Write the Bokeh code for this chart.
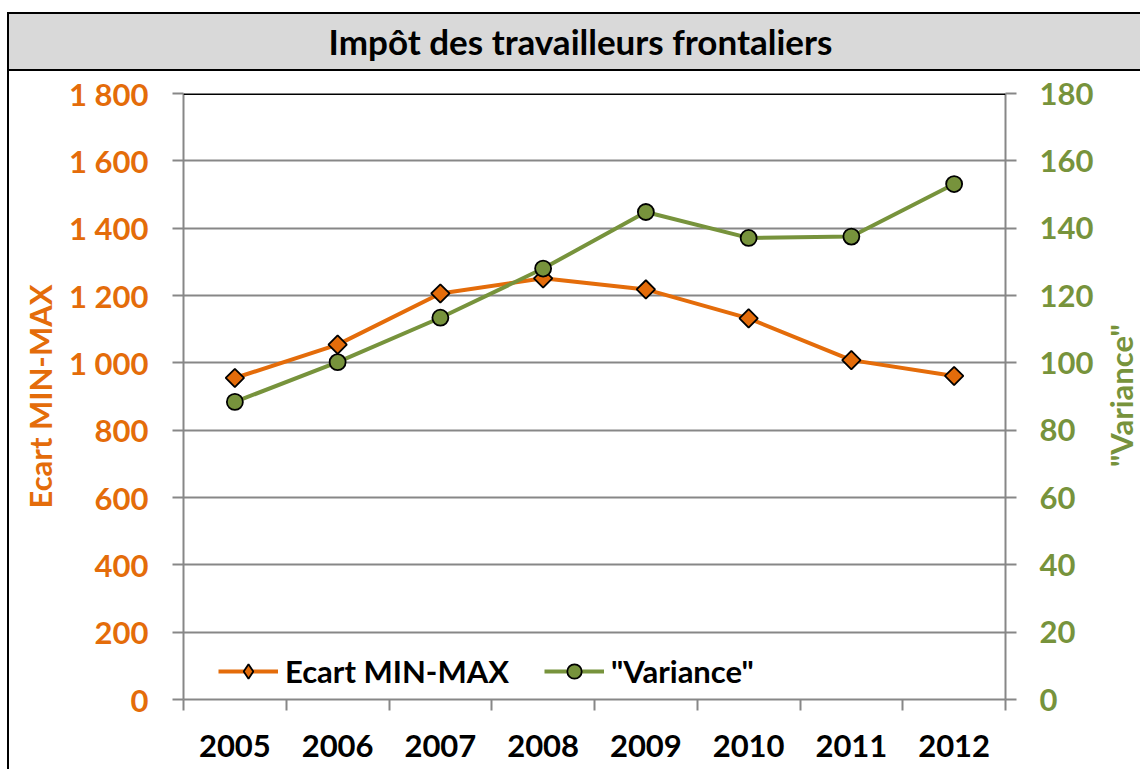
import math
from bokeh.plotting import figure
from bokeh.layouts import column, row
from bokeh.models import (Range1d, LinearAxis, FixedTicker, Legend, LegendItem,
                          Span, Div)
from bokeh.embed import file_html
from bokeh.resources import INLINE

# ---------------- data ----------------
chart_title = "Impôt des travailleurs frontaliers"
years = ["2005", "2006", "2007", "2008", "2009", "2010", "2011", "2012"]
ecart = [955, 1054, 1206, 1251, 1218, 1132, 1008, 961]
variance = [88.4, 100.2, 113.4, 128.0, 144.8, 137.1, 137.5, 153.1]
left_ticks = [0, 200, 400, 600, 800, 1000, 1200, 1400, 1600, 1800]
left_labels = ["0", "200", "400", "600", "800", "1 000", "1 200", "1 400", "1 600", "1 800"]
right_ticks = [0, 20, 40, 60, 80, 100, 120, 140, 160, 180]
left_title = "Ecart MIN-MAX"
right_title = '"Variance"'
series_names = ["Ecart MIN-MAX", '"Variance"']

# ---------------- style ----------------
ORANGE = "#E46C0A"
GREEN = "#77933C"
GRID = "#878787"
FONT = "Lato"
FS = "31px"
TITLE_FS = "35px"

PW, PH = 1094, 698
xs = [i + 0.5 for i in range(len(years))]

p = figure(width=PW, height=PH, output_backend="svg", toolbar_location=None,
           x_range=Range1d(0, len(years)), y_range=Range1d(0, 1800),
           min_border_left=174, min_border_right=98,
           min_border_top=22, min_border_bottom=70,
           x_axis_location=None, y_axis_location=None)
p.extra_y_ranges = {"var": Range1d(0, 180)}
p.outline_line_color = None
p.background_fill_color = "white"
p.border_fill_color = "white"

# grid
p.xgrid.grid_line_color = None
p.ygrid.ticker = FixedTicker(ticks=left_ticks)
p.ygrid.grid_line_color = GRID
p.ygrid.grid_line_width = 2

# bottom axis
xaxis = LinearAxis(ticker=FixedTicker(ticks=xs, minor_ticks=list(range(len(years) + 1))))
xaxis.major_label_overrides = {x: y for x, y in zip(xs, years)}
xaxis.major_tick_line_color = None
xaxis.major_tick_in = 0
xaxis.major_tick_out = 0
xaxis.minor_tick_in = 0
xaxis.minor_tick_out = 11
xaxis.minor_tick_line_color = GRID
xaxis.minor_tick_line_width = 2
xaxis.axis_line_color = GRID
xaxis.axis_line_width = 2
xaxis.major_label_standoff = 24
xaxis.major_label_text_font = FONT
xaxis.major_label_text_font_size = FS
xaxis.major_label_text_font_style = "bold"
xaxis.major_label_text_color = "black"
p.add_layout(xaxis, "below")

# left axis
yl = LinearAxis(ticker=FixedTicker(ticks=left_ticks))
yl.major_label_overrides = {t: s for t, s in zip(left_ticks, left_labels)}
yl.axis_label = left_title
yl.axis_label_text_font = FONT
yl.axis_label_text_font_size = FS
yl.axis_label_text_font_style = "bold"
yl.axis_label_text_color = ORANGE
yl.axis_label_standoff = 7
yl.major_label_text_font = FONT
yl.major_label_text_font_size = FS
yl.major_label_text_font_style = "bold"
yl.major_label_text_color = ORANGE
yl.major_label_standoff = 24
yl.major_tick_in = 0
yl.major_tick_out = 11
yl.major_tick_line_color = GRID
yl.major_tick_line_width = 2
yl.minor_tick_line_color = None
yl.axis_line_color = GRID
yl.axis_line_width = 2
p.add_layout(yl, "left")

# right axis (its title is drawn by a rotated Div next to the figure)
yr = LinearAxis(y_range_name="var", ticker=FixedTicker(ticks=right_ticks))
yr.major_label_text_font = FONT
yr.major_label_text_font_size = FS
yr.major_label_text_font_style = "bold"
yr.major_label_text_color = GREEN
yr.major_label_standoff = 23
yr.major_tick_in = 0
yr.major_tick_out = 11
yr.major_tick_line_color = GRID
yr.major_tick_line_width = 2
yr.minor_tick_line_color = None
yr.axis_line_color = GRID
yr.axis_line_width = 2
p.add_layout(yr, "right")

# top frame line
p.add_layout(Span(location=1800, dimension="width", line_color="black", line_width=3))

# series
l1 = p.line(xs, ecart, line_color=ORANGE, line_width=4)
# diamond used for the legend entry, hidden under the rotated squares in the plot
leg_diamond = p.scatter(xs, ecart, marker="diamond", size=12,
                        fill_color=ORANGE, line_color="black", line_width=1.8)
m1 = p.scatter(xs, ecart, marker="square", angle=math.pi / 4, size=13,
               fill_color=ORANGE, line_color="black", line_width=1.8)
l2 = p.line(xs, variance, line_color=GREEN, line_width=4, y_range_name="var")
m2 = p.scatter(xs, variance, marker="circle", size=16, y_range_name="var",
               fill_color=GREEN, line_color="black", line_width=1.8)

legend = Legend(items=[LegendItem(label=series_names[0], renderers=[l1, leg_diamond]),
                       LegendItem(label=series_names[1], renderers=[l2, m2])],
                orientation="horizontal", location=(35, 9))
legend.label_text_font = FONT
legend.label_text_font_size = FS
legend.label_text_font_style = "bold"
legend.label_text_color = "black"
legend.background_fill_alpha = 0
legend.border_line_color = None
legend.padding = 0
legend.margin = 0
legend.spacing = 35
legend.glyph_width = 60
legend.glyph_height = 36
legend.label_standoff = 7
p.add_layout(legend, "center")

# ---------------- frame around the chart ----------------
title_html = ('<span style="font-family: Lato; font-weight: bold; font-size: ' + TITLE_FS + '; '
              'color: black;">' + chart_title + '</span>')
band = Div(text=title_html, width=1133, height=59, margin=(12, 0, 0, 7),
           styles={"box-sizing": "border-box",
                   "background-color": "#D9D9D9",
                   "border-top": "2px solid black",
                   "border-left": "2px solid black",
                   "border-bottom": "2px solid black",
                   "font-family": FONT, "font-weight": "bold", "font-size": TITLE_FS,
                   "color": "black", "text-align": "center",
                   "line-height": "55px", "padding-left": "12px"})
bar = Div(text="", width=2, height=PH, margin=(0, 0, 0, 0),
          styles={"background-color": "black"})
rtitle_html = ('<span style="font-family: Lato; font-weight: bold; font-size: 31px; '
               'color: ' + GREEN + ';">' + right_title + '</span>')
rtitle = Div(text=rtitle_html, width=37, height=606, margin=(22, 0, 0, 0),
             styles={"writing-mode": "vertical-rl", "transform": "rotate(180deg)",
                     "font-family": FONT, "font-weight": "bold", "font-size": FS,
                     "color": GREEN, "text-align": "center", "line-height": "37px",
                     "white-space": "nowrap"})

layout = column(band, row(bar, p, rtitle, margin=(0, 0, 0, 7), spacing=0),
                spacing=0, margin=(0, 0, 0, 0))

open("out.html", "w").write(file_html(layout, INLINE))
